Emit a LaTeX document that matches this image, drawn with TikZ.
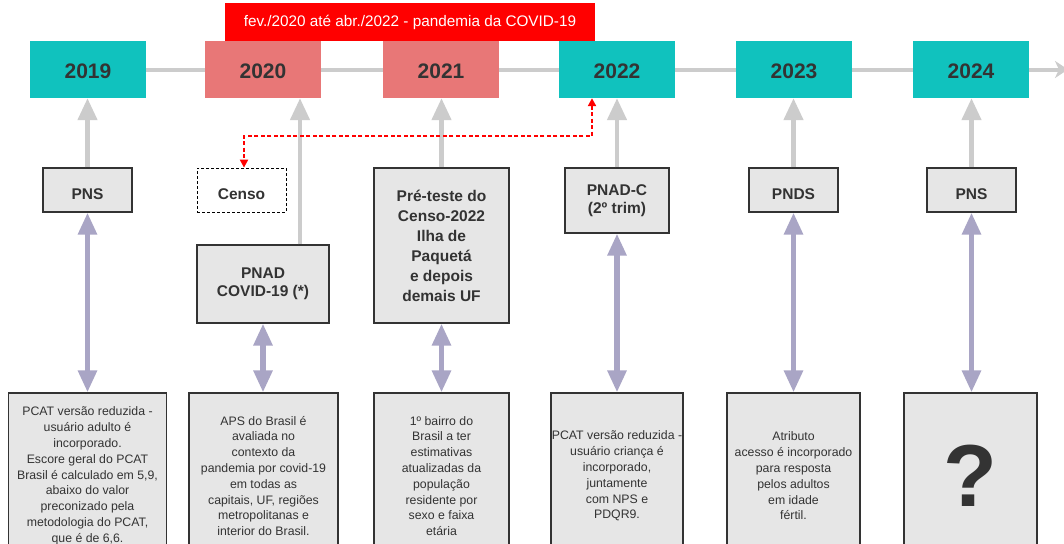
\documentclass[tikz,border=0pt]{standalone}
\usepackage{fontspec}
\setmainfont{Liberation Sans}
\usetikzlibrary{arrows.meta}
\definecolor{tealbox}{HTML}{10C2BE}
\definecolor{salmon}{HTML}{E87777}
\definecolor{boxgray}{HTML}{E6E6E6}
\definecolor{txt}{HTML}{333333}
\definecolor{lgray}{HTML}{CCCCCC}
\definecolor{purp}{HTML}{A9A5C5}
\begin{document}
\begin{tikzpicture}[x=1pt,y=-1pt,
  yearbox/.style={minimum width=116pt, minimum height=57pt, inner sep=0pt, text=txt,
    text height=17pt, text depth=0pt,
    font=\fontsize{21}{25}\selectfont\bfseries},
  newyear/.style={yearbox, fill=tealbox},
  covidyear/.style={yearbox, fill=salmon},
  survey/.style={draw=txt, line width=1.1pt, fill=boxgray, inner sep=0pt, text=txt, align=center,
    font=\fontsize{15.5}{18.5}\selectfont\bfseries},
  oneline/.style={text height=18pt, text depth=0pt},
  censobox/.style={draw=black, line width=0.8pt, dash pattern=on 3pt off 2pt, fill=white, inner sep=0pt,
    text=txt, font=\fontsize{15.5}{18.5}\selectfont\bfseries, minimum width=89pt, minimum height=44pt},
  result/.style={draw=txt, line width=1.1pt, fill=boxgray, inner sep=0pt, text=txt, align=center,
    minimum height=166pt, font=\fontsize{12.3}{15.8}\selectfont},
  timeline/.style={draw=lgray, line width=4pt},
  grayarrow/.style={draw=lgray, line width=4.5pt, -{Triangle[width=19pt,length=22pt]}},
  purparrow/.style={draw=purp, line width=5.5pt, {Triangle[width=18pt,length=22pt]}-{Triangle[width=18pt,length=22pt]}},
  reddash/.style={draw=red, line width=2pt, dash pattern=on 4pt off 2.5pt,
    {Triangle[width=8pt,length=8pt]}-{Triangle[width=8pt,length=8pt]}},
]
\clip (0,0) rectangle (1064,543);
\fill[white] (0,0) rectangle (1064,543);

% year boxes
\node[newyear]   (y2019) at (88,69.5)  {2019};
\node[covidyear] (y2020) at (263,69.5) {2020};
\node[covidyear] (y2021) at (441,69.5) {2021};
\node[newyear]   (y2022) at (617,69.5) {2022};
\node[newyear]   (y2023) at (794,69.5) {2023};
\node[newyear]   (y2024) at (971,69.5) {2024};
\coordinate (tlend) at (1068,69.5);

% banner
\node[fill=red, text=white, minimum width=370pt, minimum height=38pt, inner sep=0pt,
  font=\fontsize{15.3}{18}\selectfont] (banner) at (410,22) {fev./2020 até abr./2022 - pandemia da COVID-19};

% timeline
\draw[timeline] (y2019) -- (y2020);
\draw[timeline] (y2020) -- (y2021);
\draw[timeline] (y2021) -- (y2022);
\draw[timeline] (y2022) -- (y2023);
\draw[timeline] (y2023) -- (y2024);
\draw[timeline, -{Stealth[width=17pt,length=13pt,inset=4pt]}] (y2024) -- (tlend);

% survey boxes
\node[survey, oneline, minimum width=89pt, minimum height=44pt] (pns1) at (87.5,190) {PNS};
\node[censobox, oneline] (censo) at (241.5,190) {Censo};
\node[survey, minimum width=132pt, minimum height=78pt] (pnadcovid) at (263,284) {PNAD\\COVID-19 (*)};
\node[survey, minimum width=135pt, minimum height=155pt, font=\fontsize{15.5}{20}\selectfont\bfseries] (preteste) at (441.5,245.5)
  {Pré-teste do\\Censo-2022\\Ilha de\\Paquetá\\e depois\\demais UF};
\node[survey, minimum width=104pt, minimum height=65pt, font=\fontsize{15.5}{17.7}\selectfont\bfseries] (pnadc) at (617,200.5) {PNAD-C\\(2º trim)};
\node[survey, oneline, minimum width=89pt, minimum height=44pt] (pnds) at (793.5,190) {PNDS};
\node[survey, oneline, minimum width=89pt, minimum height=44pt] (pns2) at (971.5,190) {PNS};

% result boxes
\node[result, minimum width=158pt] (r1) at (87.5,476) {PCAT versão reduzida -\\usuário adulto é\\incorporado.\\Escore geral do PCAT\\Brasil é calculado em 5,9,\\abaixo do valor\\preconizado pela\\metodologia do PCAT,\\que é de 6,6.};
\node[result, minimum width=149pt] (r2) at (263.5,476) {APS do Brasil é\\avaliada no\\contexto da\\pandemia por covid-19\\em todas as\\capitais, UF, regiões\\metropolitanas e\\interior do Brasil.};
\node[result, minimum width=135pt] (r3) at (441.5,476) {1º bairro do\\Brasil a ter\\estimativas\\atualizadas da\\população\\residente por\\sexo e faixa\\etária};
\node[result, minimum width=132pt] (r4) at (617,476) {PCAT versão reduzida -\\usuário criança é\\incorporado,\\juntamente\\com NPS e\\PDQR9.};
\node[result, minimum width=133pt] (r5) at (793.5,476) {Atributo\\acesso é incorporado\\para resposta\\pelos adultos\\em idade\\fértil.};
\node[result, minimum width=133pt, font=\fontsize{88}{90}\selectfont\bfseries] (r6) at (970.5,476) {?};

% gray arrows up to years
\coordinate (c2020) at (300,0);
\draw[grayarrow] (pns1.north) -- (pns1.north |- y2019.south);
\draw[grayarrow] (pnadcovid.north -| c2020) -- (y2020.south -| c2020);
\draw[grayarrow] (preteste.north) -- (preteste.north |- y2021.south);
\draw[grayarrow] (pnadc.north) -- (pnadc.north |- y2022.south);
\draw[grayarrow] (pnds.north) -- (pnds.north |- y2023.south);
\draw[grayarrow] (pns2.north) -- (pns2.north |- y2024.south);

% purple double arrows
\draw[purparrow] (pns1.south) -- (pns1.south |- r1.north);
\draw[purparrow] (pnadcovid.south) -- (pnadcovid.south |- r2.north);
\draw[purparrow] (preteste.south) -- (preteste.south |- r3.north);
\draw[purparrow] (pnadc.south) -- (pnadc.south |- r4.north);
\draw[purparrow] (pnds.south) -- (pnds.south |- r5.north);
\draw[purparrow] (pns2.south) -- (pns2.south |- r6.north);

% red dashed connector
\coordinate (rtop) at (592,98);
\coordinate (rmid) at (592,136);
\coordinate (cx) at (244,0);
\draw[reddash] (y2022.south -| rtop) -- (rmid) -| (censo.north -| cx);
\end{tikzpicture}
\end{document}
